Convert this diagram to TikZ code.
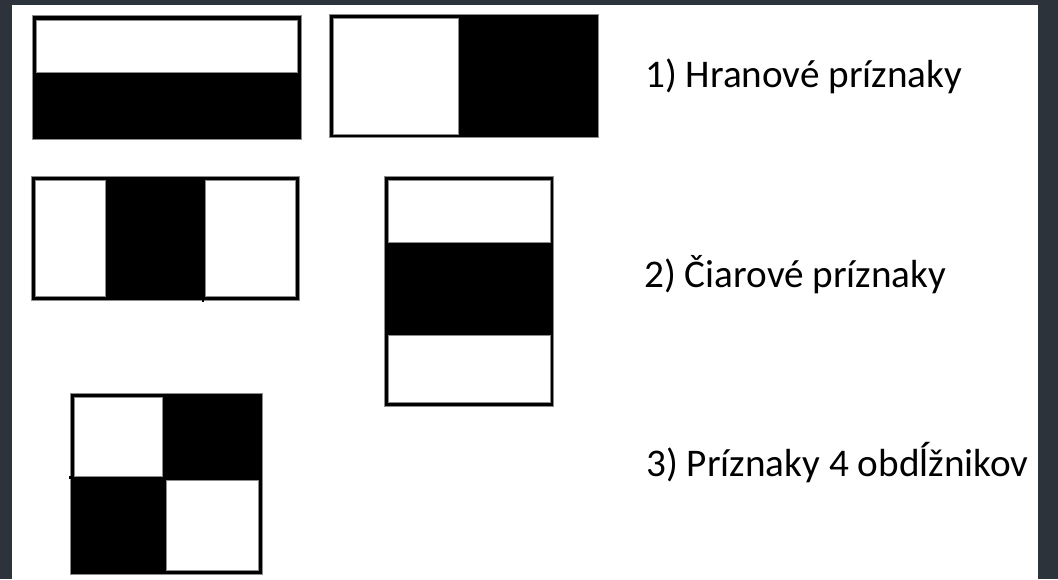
\documentclass[tikz,border=0pt]{standalone}
\usepackage{fontspec}
\setmainfont{Carlito}
\begin{document}
\begin{tikzpicture}[x=1pt,y=-1pt,
  blk/.style={fill=black,draw=black!45,line width=0.5pt},
  wht/.style={fill=white,draw=black!45,line width=0.5pt},
  lbl/.style={anchor=base west,inner sep=0pt,font=\fontsize{39.2}{46}\selectfont}]
\useasboundingbox (0,0) rectangle (1058,579);
\fill[fill={rgb,255:red,45;green,51;blue,59}] (0,0) rectangle (1058,579);
\fill[white] (12,5) rectangle (1038,579);
% 1) edge features
\path[blk] (32.3,15.7) rectangle (301,139.3);
\path[wht] (36.3,20) rectangle (297,72);
\path[blk] (329.7,14.7) rectangle (598.3,137.7);
\path[wht] (333.7,18.7) rectangle (458.7,134);
% 2) line features
\path[blk] (31.7,176.3) rectangle (299,300);
\path[wht] (35.3,180.3) rectangle (105.3,296.3);
\path[wht] (205,180.3) rectangle (295.7,296.3);
\fill[black] (201.5,299) rectangle (204,302);
\path[blk] (384.7,176) rectangle (553.7,406);
\path[wht] (388.3,180.3) rectangle (550.7,242.3);
\path[wht] (388.3,335.7) rectangle (550.7,402);
% 3) four-rectangle features
\path[blk] (70.7,393.7) rectangle (262.3,574.7);
\path[wht] (74.7,397.3) rectangle (162.7,476.3);
\path[wht] (166.7,480.3) rectangle (258.7,570.7);
\fill[black] (69,476) rectangle (71,479);
% labels
\node[lbl] (t1) at (645,87) {1) Hranové príznaky};
\node[lbl] (t2) at (644,287) {2) Čiarové príznaky};
\node[lbl] (t3) at (646,476) {3) Príznaky 4 obdĺžnikov};
\end{tikzpicture}
\end{document}
